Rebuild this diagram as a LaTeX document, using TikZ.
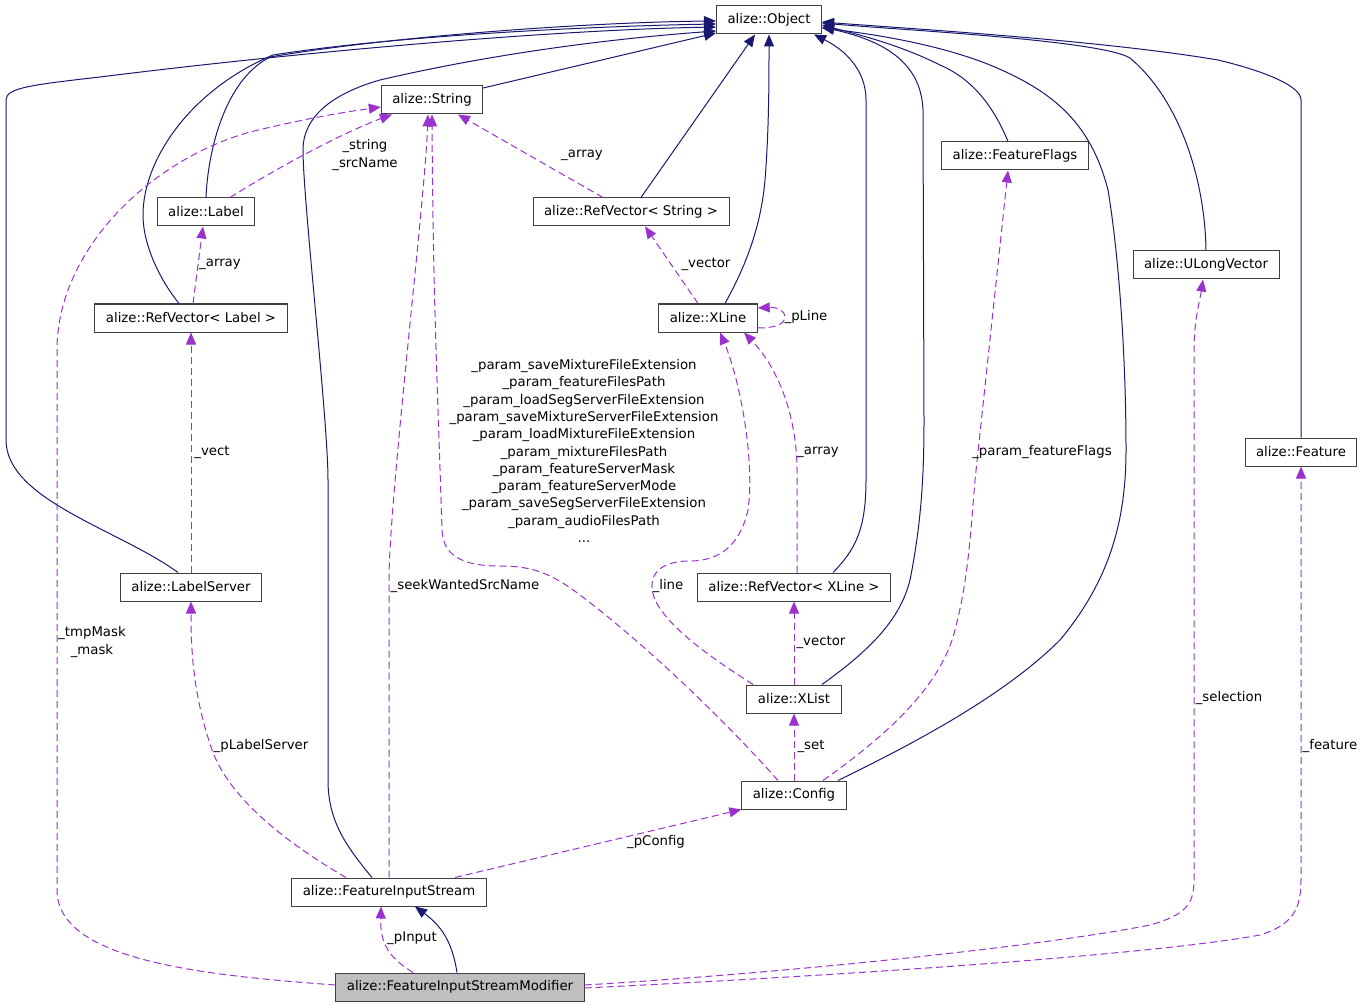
\documentclass[tikz,border=0pt]{standalone}
\usepackage{fontspec}
\setmainfont{DejaVu Sans}
\definecolor{inhblue}{RGB}{25,25,112}
\definecolor{usepurple}{RGB}{154,50,205}
\definecolor{boxgray}{RGB}{64,64,64}
\definecolor{curgray}{RGB}{191,191,191}
\usetikzlibrary{arrows.meta}

\begin{document}
\begin{tikzpicture}[x=1pt, y=-1pt,
  cls/.style={draw=boxgray, line width=1pt, fill=white, minimum height=28pt, inner xsep=11pt, inner ysep=0pt, font=\fontsize{13.3}{16}\selectfont},
  cur/.style={cls, fill=curgray},
  inh/.style={draw=inhblue, line width=1pt, -{Triangle[length=12pt,width=10pt]}},
  use/.style={draw=usepurple, line width=1pt, dash pattern=on 7pt off 4pt, -{Triangle[length=12pt,width=10pt]}},
  elabel/.style={font=\fontsize{13.3}{17.3}\selectfont, align=center, inner sep=0pt}
]
  \useasboundingbox (0,0) rectangle (1365,1008);

  % classes
  \node[cls] (obj) at (769,20) {alize::Object};
  \node[cls] (str) at (432,100) {alize::String};
  \node[cls] (lab) at (206,212) {alize::Label};
  \node[cls] (rvstr) at (631,212) {alize::RefVector< String >};
  \node[cls] (fflags) at (1015,156) {alize::FeatureFlags};
  \node[cls] (ulong) at (1206,265) {alize::ULongVector};
  \node[cls] (rvlab) at (191,318) {alize::RefVector< Label >};
  \node[cls] (xline) at (708,318) {alize::XLine};
  \node[cls] (feat) at (1301,452) {alize::Feature};
  \node[cls] (lserver) at (191,587) {alize::LabelServer};
  \node[cls] (rvxline) at (794,587) {alize::RefVector< XLine >};
  \node[cls] (xlist) at (794,699) {alize::XList};
  \node[cls] (config) at (794,795) {alize::Config};
  \node[cls] (fis) at (389,892) {alize::FeatureInputStream};
  \node[cur] (fism) at (460,987) {alize::FeatureInputStreamModifier};

  % inheritance
  \draw[inh] ([xshift=-13pt]lserver.north) .. controls (120,530) and (6,500) .. (6,440) -- (6,100)
    .. controls (6,88) and (30,85) .. (100,77) .. controls (300,52) and (550,30) .. ([yshift=-7pt]obj.west);
  \draw[inh] ([xshift=-12pt]rvlab.north) .. controls (160,280) and (143,245) .. (143,215)
    .. controls (143,160) and (190,90) .. (273,55) .. controls (400,35) and (600,26) .. ([yshift=-4pt]obj.west);
  \draw[inh] (lab.north) .. controls (208,150) and (225,80) .. (270,57)
    .. controls (400,35) and (600,22) .. ([yshift=-1pt]obj.west);
  \draw[inh] ([xshift=-17pt]fis.north) .. controls (345,845) and (328,820) .. (328,780) -- (328,480)
    .. controls (328,420) and (303,200) .. (303,150) .. controls (303,110) and (345,90) .. (380,80)
    .. controls (500,52) and (620,38) .. ([yshift=-11pt]obj.west);
  \draw[inh] ([yshift=12pt]str.east) -- ([yshift=-13pt]obj.west);
  \draw[inh] ([xshift=10pt]rvstr.north) -- ([xshift=-14pt]obj.south);
  \draw[inh] ([xshift=17pt]xline.north) .. controls (735,285) and (760,240) .. (765,180)
    .. controls (769,130) and (769,80) .. (obj.south);
  \draw[inh] ([xshift=39pt]rvxline.north) .. controls (855,550) and (866,530) .. (866,480) -- (866,100)
    .. controls (866,70) and (845,50) .. ([xshift=-8pt]obj.south east);
  \draw[inh] ([xshift=28pt]xlist.north) .. controls (870,650) and (900,620) .. (910,580)
    .. controls (922,520) and (924,470) .. (924,420) -- (923,110) .. controls (921,60) and (880,40) .. ([yshift=-7pt]obj.east);
  \draw[inh] ([xshift=-7pt]fflags.north) .. controls (995,110) and (975,80) .. (940,65)
    .. controls (900,45) and (860,35) .. ([yshift=-5pt]obj.east);
  \draw[inh] ([xshift=44pt]config.north) .. controls (900,750) and (1000,700) .. (1060,640)
    .. controls (1110,580) and (1126,520) .. (1126,450) .. controls (1126,350) and (1118,250) .. (1108,190)
    .. controls (1090,120) and (1050,90) .. (990,65) .. controls (940,45) and (880,35) .. ([yshift=-8pt]obj.east);
  \draw[inh] (ulong.north) .. controls (1205,180) and (1180,100) .. (1130,58)
    .. controls (1100,40) and (900,30) .. ([yshift=-3pt]obj.east);
  \draw[inh] (feat.north) -- (1301,100) .. controls (1301,85) and (1260,70) .. (1218,60)
    .. controls (1100,40) and (900,28) .. ([yshift=-2pt]obj.east);
  \draw[inh] ([xshift=-3pt]fism.north) .. controls (452,940) and (440,925) .. ([xshift=26pt]fis.south);

  % usage
  \draw[use] ([xshift=24pt]lab.north) .. controls (290,160) and (350,130) .. ([xshift=-40pt]str.south);
  \node[elabel] (l-str) at (365,155) {\_string\\\_srcName};
  \draw[use] ([yshift=2pt]fism.west) .. controls (200,975) and (57,960) .. (57,890) -- (57,350)
    .. controls (57,250) and (150,160) .. (250,132) .. controls (320,115) and (360,110) .. ([yshift=-7pt]str.west);
  \node[elabel] (l-mask) at (92,642) {\_tmpMask\\\_mask};
  \draw[use] (fis.north) -- (389,580) .. controls (389,500) and (425,200) .. ([xshift=-4pt]str.south);
  \node[elabel] (l-seek) at (465,586) {\_seekWantedSrcName};
  \draw[use] ([xshift=-16pt]config.north) .. controls (720,715) and (640,640) .. (580,595)
    .. controls (550,572) and (530,566) .. (500,566) .. controls (470,566) and (443,560) .. (442,530)
    .. controls (438,400) and (433,300) .. (str.south);
  \node[elabel] (l-param) at (584,451) {\_param\_saveMixtureFileExtension\\\_param\_featureFilesPath\\\_param\_loadSegServerFileExtension\\\_param\_saveMixtureServerFileExtension\\\_param\_loadMixtureFileExtension\\\_param\_mixtureFilesPath\\\_param\_featureServerMask\\\_param\_featureServerMode\\\_param\_saveSegServerFileExtension\\\_param\_audioFilesPath\\...};
  \draw[use] ([xshift=-28pt]rvstr.north) -- ([xshift=26pt]str.south);
  \node[elabel] (l-array1) at (582,155) {\_array};
  \draw[use] ([xshift=2pt]rvlab.north) -- ([xshift=-3pt]lab.south);
  \node[elabel] (l-array2) at (220,264) {\_array};
  \draw[use] (lserver.north) -- (rvlab.south);
  \node[elabel] (l-vect) at (212,452) {\_vect};
  \draw[use] ([xshift=-43pt]fis.north) .. controls (290,845) and (230,800) .. (212,750)
    .. controls (195,700) and (191,660) .. (lserver.south);
  \node[elabel] (l-plserver) at (261,746) {\_pLabelServer};
  \draw[use] ([xshift=-10pt]xline.north) -- ([xshift=14pt]rvstr.south);
  \node[elabel] (l-vector1) at (706,264) {\_vector};
  \draw[use] ([yshift=-10pt]xline.east) .. controls (778,328) and (785,323) .. (785,317)
    .. controls (785,311) and (778,307) .. ([yshift=10pt]xline.east);
  \node[elabel] (l-pline) at (806,317) {\_pLine};
  \draw[use] ([xshift=-41pt]xlist.north) .. controls (715,660) and (670,630) .. (655,600)
    .. controls (645,575) and (660,561) .. (690,561) .. controls (720,561) and (740,545) .. (748,510)
    .. controls (755,460) and (740,380) .. ([xshift=12pt]xline.south);
  \node[elabel] (l-line) at (668,586) {\_line};
  \draw[use] ([xshift=3pt]rvxline.north) -- (797,470) .. controls (797,420) and (780,370) .. ([xshift=36pt]xline.south);
  \node[elabel] (l-array3) at (818,452) {\_array};
  \draw[use] (xlist.north) -- (rvxline.south);
  \node[elabel] (l-vector2) at (821,642) {\_vector};
  \draw[use] (config.north) -- (xlist.south);
  \node[elabel] (l-set) at (811,746) {\_set};
  \draw[use] ([xshift=29pt]config.north) .. controls (880,740) and (940,690) .. (955,630)
    .. controls (968,580) and (970,540) .. (975,480) -- ([xshift=-7pt]fflags.south);
  \node[elabel] (l-fflags) at (1042,452) {\_param\_featureFlags};
  \draw[use] ([xshift=66pt]fis.north) -- (config.south west);
  \node[elabel] (l-pconfig) at (656,842) {\_pConfig};
  \draw[use] ([xshift=-47pt]fism.north) .. controls (390,958) and (380,945) .. ([xshift=-8pt]fis.south);
  \node[elabel] (l-pinput) at (412,938) {\_pInput};
  \draw[use] ([yshift=2pt]fism.east) .. controls (800,972) and (1050,945) .. (1150,925)
    .. controls (1185,915) and (1194,905) .. (1194,880) -- (1194,350)
    .. controls (1194,320) and (1200,300) .. ([xshift=-3pt]ulong.south);
  \node[elabel] (l-sel) at (1229,698) {\_selection};
  \draw[use] ([yshift=-1pt]fism.east) .. controls (850,975) and (1150,955) .. (1260,935)
    .. controls (1292,925) and (1301,910) .. (1301,880) -- (feat.south);
  \node[elabel] (l-feat) at (1330,746) {\_feature};
\end{tikzpicture}
\end{document}
